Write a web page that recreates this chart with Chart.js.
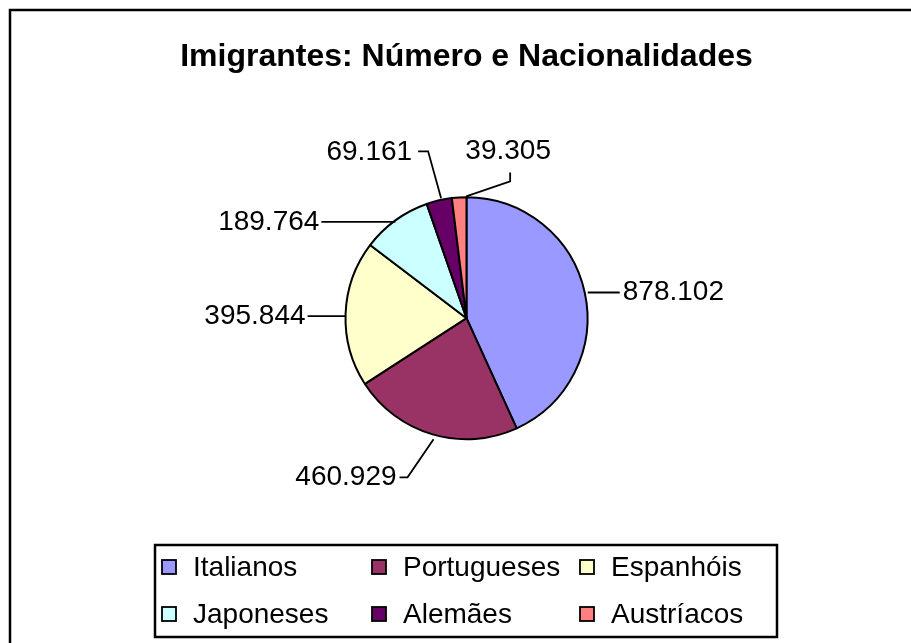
<!DOCTYPE html>
<html>
<head>
<meta charset="utf-8">
<script src="https://cdn.jsdelivr.net/npm/chart.js@4/dist/chart.umd.min.js"></script>
<style>
  html, body { margin: 0; padding: 0; background: #fff; overflow: hidden; }
  canvas { display: block; }
</style>
</head>
<body>
<canvas id="c" width="911" height="643"></canvas>
<script>
// ---- data ----
const TITLE = 'Imigrantes: Número e Nacionalidades';
const categories = ['Italianos', 'Portugueses', 'Espanhóis', 'Japoneses', 'Alemães', 'Austríacos'];
const immigrants = [878102, 460929, 395844, 189764, 69161, 39305];
const sliceColors = ['#9999FF', '#993366', '#FFFFCC', '#CCFFFF', '#660066', '#FF8080'];

const FONT = '"Liberation Sans", Arial, Helvetica, sans-serif';

function fmt(v) {
  return String(v).replace(/\B(?=(\d{3})+(?!\d))/g, '.');
}

// label placement relative to the slice's mid-angle edge point (leader path + text anchor)
const labelLayout = [
  { path: [[3, 0], [35, 0]], text: [38, 0], align: 'left' },
  { path: [[1, 5], [-25, 43], [-33, 43]], text: [-36, 43], align: 'right' },
  { path: [[0, 2.5], [-38, 2.5]], text: [-40, 2.5], align: 'right' },
  { path: [[0, 1.5], [-74, 1.5]], text: [-76, 2], align: 'right' },
  { path: [[2, -2], [-11, -49], [-21, -49]], text: [-27, -48], align: 'right' },
  { path: [[7, -1], [51, -16], [51, -25]], text: [49, -46], align: 'center' }
];

// legend layout (table of 3 columns x 2 rows)
const legendLayout = {
  box: [155, 545, 622, 92],
  colX: [162, 372, 580],
  rowY: [567, 614],
  swatch: 14,
  textGap: 31
};

const framePlugin = {
  id: 'frame',
  beforeDraw(chart) {
    const ctx = chart.ctx;
    ctx.save();
    ctx.fillStyle = '#fff';
    ctx.fillRect(0, 0, chart.width, chart.height);
    ctx.strokeStyle = '#000';
    ctx.lineWidth = 2.5;
    ctx.strokeRect(10, 10, chart.width + 50, chart.height + 50);
    ctx.restore();
  }
};

const labelPlugin = {
  id: 'pieLabels',
  afterDatasetsDraw(chart) {
    const ctx = chart.ctx;
    const meta = chart.getDatasetMeta(0);
    const values = chart.data.datasets[0].data;
    ctx.save();
    ctx.strokeStyle = '#000';
    ctx.lineWidth = 1.8;
    ctx.fillStyle = '#000';
    ctx.font = '28px ' + FONT;
    ctx.textBaseline = 'middle';
    meta.data.forEach((arc, i) => {
      const p = arc.getProps(['x', 'y', 'startAngle', 'endAngle', 'outerRadius'], true);
      const a = (p.startAngle + p.endAngle) / 2;
      const ex = p.x + Math.cos(a) * p.outerRadius;
      const ey = p.y + Math.sin(a) * p.outerRadius;
      const L = labelLayout[i];
      ctx.beginPath();
      L.path.forEach((pt, k) => {
        const x = ex + pt[0], y = ey + pt[1];
        if (k === 0) ctx.moveTo(x, y); else ctx.lineTo(x, y);
      });
      ctx.stroke();
      ctx.textAlign = L.align;
      ctx.fillText(fmt(values[i]), ex + L.text[0], ey + L.text[1]);
    });
    ctx.restore();
  }
};

const legendPlugin = {
  id: 'tableLegend',
  afterDraw(chart) {
    const ctx = chart.ctx;
    const G = legendLayout;
    const ds = chart.data.datasets[0];
    ctx.save();
    ctx.strokeStyle = '#000';
    ctx.lineWidth = 2.5;
    ctx.strokeRect(G.box[0], G.box[1], G.box[2], G.box[3]);
    ctx.font = '28px ' + FONT;
    ctx.textBaseline = 'middle';
    ctx.textAlign = 'left';
    chart.data.labels.forEach((lab, i) => {
      const col = i % 3, row = Math.floor(i / 3);
      const x = G.colX[col], y = G.rowY[row];
      ctx.fillStyle = ds.backgroundColor[i];
      ctx.fillRect(x, y - G.swatch / 2, G.swatch, G.swatch);
      ctx.lineWidth = 1.8;
      ctx.strokeRect(x, y - G.swatch / 2, G.swatch, G.swatch);
      ctx.fillStyle = '#000';
      ctx.fillText(lab, x + G.textGap, y + 1);
    });
    ctx.restore();
  }
};

new Chart(document.getElementById('c'), {
  type: 'pie',
  data: {
    labels: categories,
    datasets: [{
      data: immigrants,
      backgroundColor: sliceColors,
      borderColor: '#000',
      borderWidth: 2
    }]
  },
  options: {
    responsive: false,
    devicePixelRatio: 1,
    animation: false,
    radius: 121,
    layout: { padding: { left: 22, right: 0, top: 10, bottom: 100 } },
    plugins: {
      title: {
        display: true,
        text: TITLE,
        color: '#000',
        font: { family: FONT, size: 32, weight: 'bold' },
        padding: { top: 28, bottom: 17 }
      },
      legend: { display: false },
      tooltip: { enabled: false }
    }
  },
  plugins: [framePlugin, labelPlugin, legendPlugin]
});
</script>
</body>
</html>
